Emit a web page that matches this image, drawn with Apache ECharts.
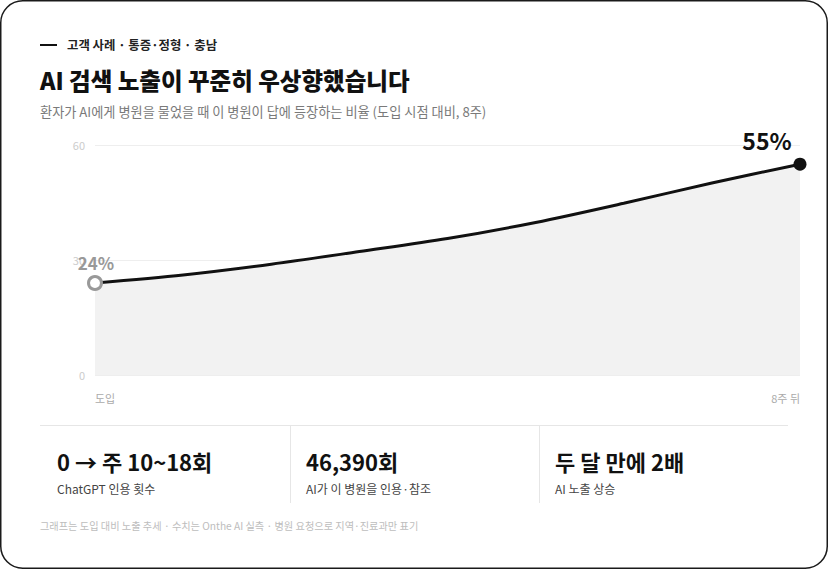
<!DOCTYPE html>
<html><head><meta charset="utf-8">
<script src="https://cdn.jsdelivr.net/npm/echarts@6/dist/echarts.min.js"></script>
<style>
html,body{margin:0;padding:0;background:#fff;}
#c{width:828px;height:569px;}
</style></head>
<body><div id="c"></div>
<script>
const weeks = ['도입','1주','2주','3주','4주','5주','6주','7주','8주 뒤'];
const exposure = [24, 26.1, 28.9, 32.2, 35.6, 39.8, 44.8, 50.1, 55];
const yTicks = [0, 30, 60];
const statValues = ['0 → 주 10~18회', '46,390회', '두 달 만에 2배'];
const statLabels = ['ChatGPT 인용 횟수', 'AI가 이 병원을 인용·참조', 'AI 노출 상승'];
const eyebrow = '고객 사례 · 통증·정형 · 충남';
const titleText = 'AI 검색 노출이 꾸준히 우상향했습니다';
const subText = '환자가 AI에게 병원을 물었을 때 이 병원이 답에 등장하는 비율 (도입 시점 대비, 8주)';
const footText = '그래프는 도입 대비 노출 추세 · 수치는 Onthe AI 실측 · 병원 요청으로 지역·진료과만 표기';

const F = '"Noto Sans CJK KR", "Noto Sans", sans-serif';
const chart = echarts.init(document.getElementById('c'), null, {renderer:'svg'});

const last = exposure.length - 1;
const seriesData = exposure.map((v, i) => {
  if (i === 0) return {value: v, symbol:'circle', symbolSize: 13,
    itemStyle:{color:'#fff', borderColor:'#999', borderWidth:3},
    label:{show:true, position:'top', distance:4, offset:[1,0], formatter:'{c}%', color:'#999', fontSize:17, fontWeight:'bold', fontFamily:F}};
  if (i === last) return {value: v, symbol:'circle', symbolSize: 13,
    itemStyle:{color:'#111', borderColor:'#111', borderWidth:0},
    label:{show:true, position:'top', distance:6, offset:[-33,0], formatter:'{c}%', color:'#111', fontSize:23, fontWeight:'bold', fontFamily:F}};
  return {value: v, symbol:'none'};
});

const statX = [57, 306, 555];
const graphics = [
  {type:'rect', shape:{x:0.75, y:0.75, width:826.5, height:567.5, r:22}, style:{fill:'none', stroke:'#1a1a1a', lineWidth:1.5}, z:-1},
  {type:'line', shape:{x1:40, y1:45, x2:57, y2:45}, style:{stroke:'#111', lineWidth:2}},
  {type:'text', x:67, y:45, style:{text:eyebrow, font:'bold 12.4px '+F, fill:'#222', textVerticalAlign:'middle'}},
  {type:'text', x:40, y:80, style:{text:titleText, font:'900 23.5px '+F, fill:'#111', textVerticalAlign:'middle'}},
  {type:'text', x:40, y:111, style:{text:subText, font:'13.2px '+F, fill:'#7a7a7a', textVerticalAlign:'middle'}},
  {type:'line', shape:{x1:40, y1:425.5, x2:788, y2:425.5}, style:{stroke:'#e6e6e6', lineWidth:1}},
  {type:'line', shape:{x1:290.5, y1:426, x2:290.5, y2:503}, style:{stroke:'#e6e6e6', lineWidth:1}},
  {type:'line', shape:{x1:539.5, y1:426, x2:539.5, y2:503}, style:{stroke:'#e6e6e6', lineWidth:1}},
  {type:'text', x:40, y:525, style:{text:footText, font:'10.2px '+F, fill:'#bdbdbd', textVerticalAlign:'middle'}}
];
statValues.forEach((s, i) => {
  graphics.push({type:'text', x:statX[i], y:461, style:{text:s, font:'bold 22px '+F, fill:'#111', textVerticalAlign:'middle'}});
  graphics.push({type:'text', x:statX[i], y:488, style:{text:statLabels[i], font:'12px '+F, fill:'#444', textVerticalAlign:'middle'}});
});

chart.setOption({
  animation:false,
  grid:{left:95, right:28, top:145, bottom:194, containLabel:false},
  xAxis:{type:'category', data:weeks, boundaryGap:false,
    axisLine:{show:false}, axisTick:{show:false},
    axisLabel:{interval:(i)=> i===0 || i===last, color:'#aaa', fontSize:11, fontFamily:F, margin:17,
      alignMinLabel:'left', alignMaxLabel:'right'}},
  yAxis:{type:'value', min:yTicks[0], max:yTicks[yTicks.length-1], interval:30,
    axisLine:{show:false}, axisTick:{show:false},
    axisLabel:{color:'#cccccc', fontSize:11, fontFamily:F, margin:10},
    splitLine:{show:true, lineStyle:{color:'#eeeeee', width:1}}},
  series:[{type:'line', data:seriesData, smooth:0.3, showAllSymbol:true,
    lineStyle:{color:'#111', width:3}, areaStyle:{color:'#f2f2f2', opacity:1},
    z:3}],
  graphic:graphics
});
</script></body></html>
